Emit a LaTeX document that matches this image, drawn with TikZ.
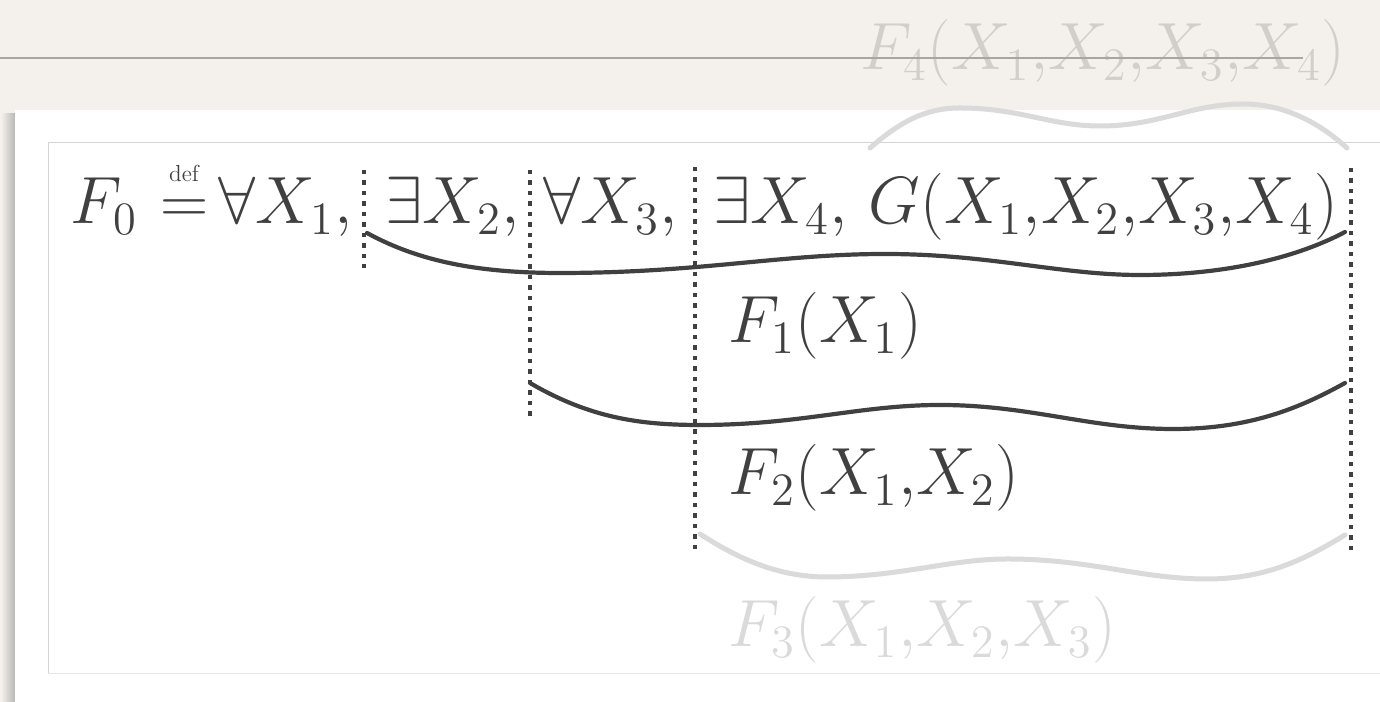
\documentclass[tikz,border=0pt]{standalone}
\usepackage{amsmath}
\usetikzlibrary{calc}

\definecolor{ink}{HTML}{404040}
\definecolor{faint}{HTML}{DADADA}
\definecolor{faintpaper}{HTML}{D2CFCA}
\definecolor{paper}{HTML}{F4F1EC}
\definecolor{rulegray}{HTML}{A9A6A2}
\definecolor{framegray}{HTML}{D4D4D4}

\tikzset{
  formula/.style={anchor=base west, inner sep=0pt, text=ink,
    font=\LARGE, scale=1.10},
  scopeline/.style={ink, line width=0.45mm, dash pattern=on 0.45mm off 0.6mm},
  darkbrace/.style={ink, line width=0.42mm, line cap=round},
  lightbrace/.style={faint, line width=0.5mm, line cap=round},
}

\begin{document}
\begin{tikzpicture}[x=0.1mm, y=-0.1mm, line join=round]

% ----------------------------
% PAGE AND PANEL
% ----------------------------
\useasboundingbox (0,0) rectangle (1380,702);
\fill[paper] (0,0) rectangle (1380,702);
\shade[left color=paper, right color=black!28] (1,114) rectangle (15,702);
\fill[white] (15,110) rectangle (1380,702);
\draw[framegray, line width=0.1mm] (1380,143) -- (48,143) -- (48,674);
\draw[framegray!55, line width=0.1mm] (48,674) -- (1380,674);

% ----------------------------
% PARAMETERS
% ----------------------------
\def\ybase{224}   % baseline of the main formula
\def\xsub{728}    % left edge of the F_k lines

% ----------------------------
% MAIN FORMULA
% ----------------------------
\node[formula] (f0) at (70,\ybase) {$F_0$};
\node[formula] (defeq) at (160,\ybase)
  {$\overset{\raisebox{1.5pt}{\scalebox{0.5}{$\scriptstyle\mathrm{def}$}}}{=}$};
\node[formula] (all1) at (218,\ybase) {$\forall X_1,$};
\node[formula] (ex2) at (385,\ybase) {$\exists X_2,$};
\node[formula] (all3) at (543,\ybase) {$\forall X_3,$};
\node[formula] (ex4) at (713,\ybase) {$\exists X_4,$};
\node[formula] (gterm) at (868,\ybase) {$G(X_1{,}X_2{,}X_3{,}X_4)$};

% ----------------------------
% SUB-FORMULAS
% ----------------------------
\node[formula] (f1) at (\xsub,343) {$F_1(X_1)$};
\node[formula] (f2) at (\xsub,495) {$F_2(X_1{,}X_2)$};
\node[formula, text=faint] (f3) at (\xsub,647) {$F_3(X_1{,}X_2{,}X_3)$};
\node[formula, text=faintpaper] (f4) at (860,70) {$F_4(X_1{,}X_2{,}X_3{,}X_4)$};

% rule across the paper, over the faint label
\draw[rulegray, line width=0.2mm] (0,58) -- (1303,58);

% ----------------------------
% DOTTED SCOPE LINES
% ----------------------------
\coordinate (d1t) at (364,170);  \coordinate (d1b) at (364,268);
\coordinate (d2t) at (530,170);  \coordinate (d2b) at (530,418);
\coordinate (d3t) at (695,167);  \coordinate (d3b) at (695,555);
\coordinate (d4t) at (1351,168); \coordinate (d4b) at (1351,555);

\draw[scopeline] (d1t) -- (d1b);
\draw[scopeline] (d2t) -- (d2b);
\draw[scopeline] (d3t) -- (d3b);
\draw[scopeline] (d4t) -- (d4b);

% ----------------------------
% BRACES
% ----------------------------
% F1 : from X2 to the end
\draw[darkbrace] (367,233) .. controls (420,262) and (480,273) .. (560,273)
  .. controls (700,273) and (780,254) .. (885,254)
  .. controls (990,254) and (1060,275) .. (1140,275)
  .. controls (1230,275) and (1300,256) .. (1345,232);

% F2 : from X3 to the end
\draw[darkbrace] (530,383) .. controls (590,418) and (640,425) .. (700,425)
  .. controls (800,425) and (860,405) .. (940,405)
  .. controls (1030,405) and (1090,429) .. (1173,429)
  .. controls (1250,429) and (1300,408) .. (1345,383);

% F3 : from X4 to the end
\draw[lightbrace] (700,534) .. controls (740,560) and (780,577) .. (827,577)
  .. controls (900,577) and (950,559) .. (1007,559)
  .. controls (1090,559) and (1140,579) .. (1207,579)
  .. controls (1270,579) and (1310,556) .. (1345,535);

% F4 : over G
\draw[lightbrace] (870,148) .. controls (900,122) and (925,108) .. (960,108)
  .. controls (1020,108) and (1050,126) .. (1100,126)
  .. controls (1160,126) and (1190,104) .. (1243,104)
  .. controls (1290,104) and (1325,128) .. (1347,148);

\end{tikzpicture}
\end{document}
